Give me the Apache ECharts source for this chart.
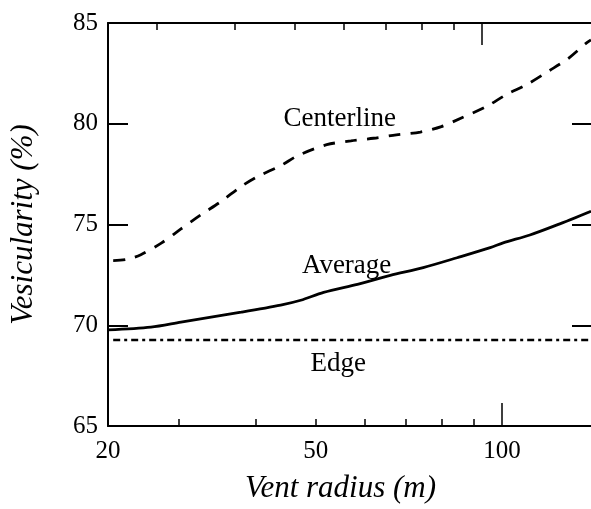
<!DOCTYPE html>
<html>
<head>
<meta charset="utf-8">
<script src="https://cdn.jsdelivr.net/npm/echarts@6/dist/echarts.min.js"></script>
<style>html,body{margin:0;padding:0;background:#fff;}#c{width:591px;height:509px;}</style>
</head>
<body>
<div id="c"></div>
<script>
// ---- data ----
const centerX = [23.55, 24.7, 26.1, 28.2, 30.3, 32.6, 35.2, 37.9, 40.3, 43.9, 46.8, 52.1, 57, 62, 67.5, 73.8, 79.8, 86.3, 94.3, 101.5, 109.7, 119, 127.8, 136.6, 139.2];
const centerY = [73.21, 73.26, 73.5, 74.09, 74.78, 75.47, 76.15, 76.89, 77.38, 77.92, 78.42, 78.96, 79.15, 79.28, 79.45, 79.59, 79.86, 80.31, 80.85, 81.44, 81.95, 82.62, 83.23, 83.99, 84.16];
const averageX = [23.1, 27.1, 30.3, 37.9, 43.9, 47.3, 51.5, 58.4, 66.0, 74.6, 84.6, 95.7, 100.4, 110.9, 122.7, 139.2];
const averageY = [69.77, 69.91, 70.16, 70.65, 71.0, 71.24, 71.63, 72.03, 72.47, 72.86, 73.35, 73.85, 74.09, 74.48, 74.98, 75.66];
const edgeX = [23.55, 139.2];
const edgeY = [69.27, 69.27];
const xTickValues = [30, 40, 50, 60, 70, 80, 90, 100];
const xMajorTick = [100];
const xLabelValues = [23.1, 50, 100];
const xLabelTexts = ['20', '50', '100'];
const seriesNames = ['Centerline', 'Average', 'Edge'];
const annotX = [54.7, 56.1, 54.4];
const annotY = [80.23, 72.96, 68.1];

const pairs = (xs, ys) => xs.map((x, i) => [x, ys[i]]);
const FONT = 'Liberation Serif';
const bottomRange = {min: 23.1, max: 139.2};
const topRange = {min: 25, max: 150};

function xAx(pos, range, opts) {
  return Object.assign({
    type: 'log', position: pos, min: range.min, max: range.max,
    splitLine: {show: false},
    axisLine: {show: false},
    axisTick: {show: false},
    axisLabel: {show: false}
  }, opts);
}

const chart = echarts.init(document.getElementById('c'), null, {renderer: 'canvas'});
chart.setOption({
  animation: false,
  backgroundColor: '#fff',
  grid: {left: 107, right: 0, top: 23, bottom: 79},
  xAxis: [
    xAx('bottom', bottomRange, {
      name: 'Vent radius (m)', nameLocation: 'middle', nameGap: 47,
      nameTextStyle: {fontFamily: FONT, fontStyle: 'italic', fontSize: 31, color: '#000', padding: [0, 18, 0, 0]},
      axisLine: {show: true, lineStyle: {color: '#000', width: 2}},
      axisTick: {show: true, inside: true, length: 7, customValues: xTickValues, lineStyle: {color: '#000', width: 1.5}},
      axisLabel: {show: true, margin: 13, customValues: xLabelValues, fontFamily: FONT, fontSize: 25, color: '#000',
        formatter: v => { const i = xLabelValues.findIndex(t => Math.abs(t - v) < 0.01); return i >= 0 ? xLabelTexts[i] : ''; }}
    }),
    xAx('bottom', bottomRange, {
      axisTick: {show: true, inside: true, length: 23, customValues: xMajorTick, lineStyle: {color: '#000', width: 1.5}}
    }),
    xAx('top', topRange, {
      axisLine: {show: true, lineStyle: {color: '#000', width: 2}},
      axisTick: {show: true, inside: true, length: 7, customValues: xTickValues, lineStyle: {color: '#000', width: 1.5}}
    }),
    xAx('top', topRange, {
      axisTick: {show: true, inside: true, length: 22, customValues: xMajorTick, lineStyle: {color: '#000', width: 1.5}}
    })
  ],
  yAxis: [
    {
      type: 'value', position: 'left', min: 65, max: 85, interval: 5,
      name: 'Vesicularity (%)', nameLocation: 'middle', nameGap: 69, nameRotate: 90,
      nameTextStyle: {fontFamily: FONT, fontStyle: 'italic', fontSize: 31, color: '#000'},
      splitLine: {show: false},
      axisLine: {show: true, lineStyle: {color: '#000', width: 2}},
      axisTick: {show: true, inside: true, length: 20, lineStyle: {color: '#000', width: 2}},
      axisLabel: {margin: 10, fontFamily: FONT, fontSize: 25, color: '#000'}
    },
    {
      type: 'value', position: 'right', min: 65, max: 85, interval: 5,
      splitLine: {show: false},
      axisLine: {show: false},
      axisTick: {show: true, inside: true, length: 19, lineStyle: {color: '#000', width: 2}},
      axisLabel: {show: false}
    }
  ],
  series: [
    {
      name: seriesNames[0], type: 'line', xAxisIndex: 0, yAxisIndex: 0,
      data: pairs(centerX, centerY), smooth: 0.3, showSymbol: false, symbol: 'none',
      lineStyle: {color: '#000', width: 2.8, type: [12, 10]},
      markPoint: {symbol: 'circle', symbolSize: 0, data: [{coord: [annotX[0], annotY[0]], name: seriesNames[0]}],
        label: {show: true, position: 'inside', formatter: '{b}', fontFamily: FONT, fontSize: 27, color: '#000'}}
    },
    {
      name: seriesNames[1], type: 'line', xAxisIndex: 0, yAxisIndex: 0,
      data: pairs(averageX, averageY), smooth: 0.3, showSymbol: false, symbol: 'none',
      lineStyle: {color: '#000', width: 2.8},
      markPoint: {symbol: 'circle', symbolSize: 0, data: [{coord: [annotX[1], annotY[1]], name: seriesNames[1]}],
        label: {show: true, position: 'inside', formatter: '{b}', fontFamily: FONT, fontSize: 27, color: '#000'}}
    },
    {
      name: seriesNames[2], type: 'line', xAxisIndex: 0, yAxisIndex: 0,
      data: pairs(edgeX, edgeY), showSymbol: false, symbol: 'none',
      lineStyle: {color: '#000', width: 2.6, type: [7, 4, 3, 4]},
      markPoint: {symbol: 'circle', symbolSize: 0, data: [{coord: [annotX[2], annotY[2]], name: seriesNames[2]}],
        label: {show: true, position: 'inside', formatter: '{b}', fontFamily: FONT, fontSize: 27, color: '#000'}}
    }
  ]
});
</script>
</body>
</html>
